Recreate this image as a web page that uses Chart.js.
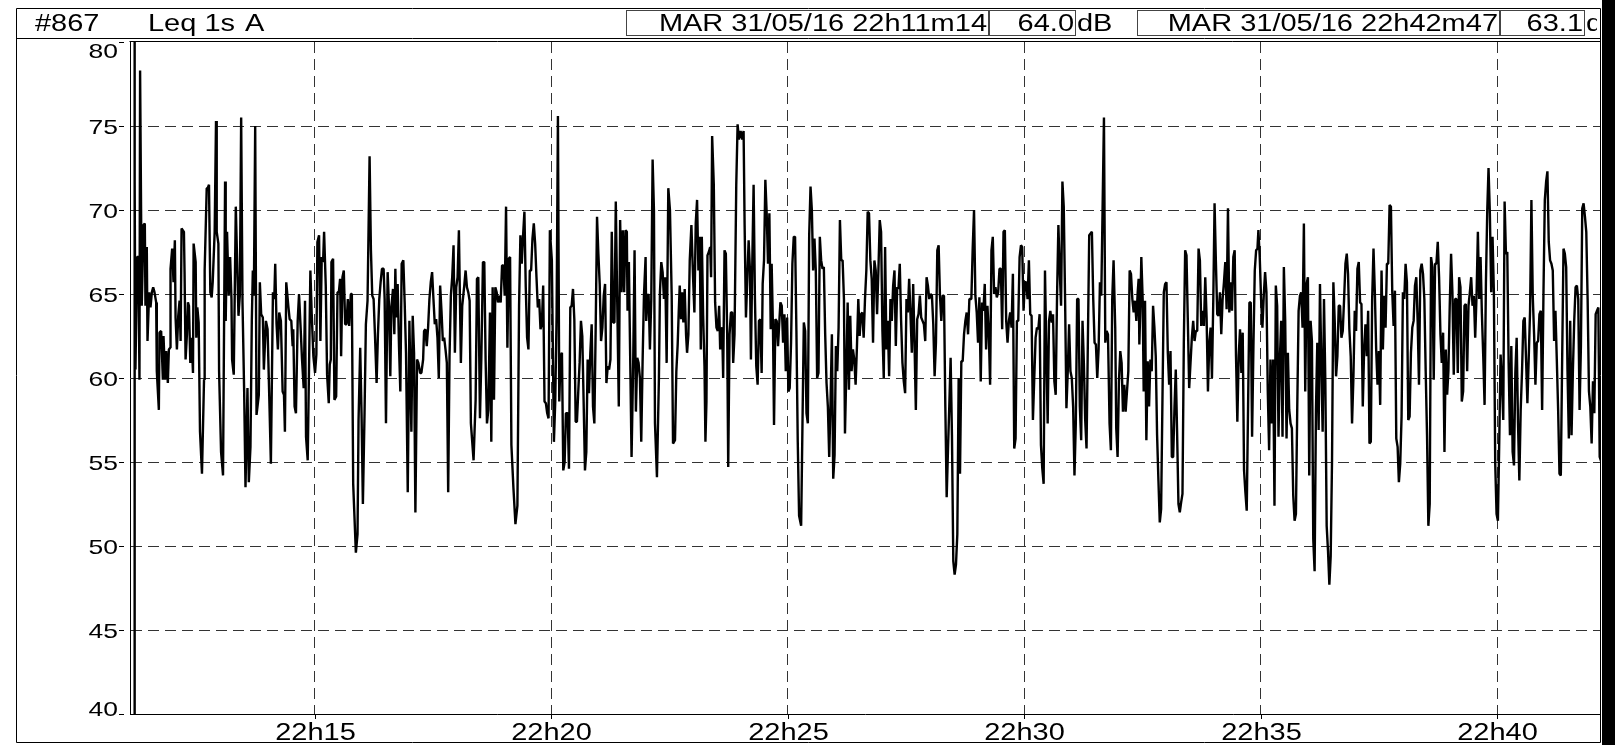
<!DOCTYPE html>
<html>
<head>
<meta charset="utf-8">
<title>#867 Leq 1s A</title>
<script src="https://cdn.jsdelivr.net/npm/chart.js@4/dist/chart.umd.min.js"></script>
<style>
  html, body { margin: 0; padding: 0; background: #fff; overflow: hidden; }
  canvas { display: block; }
</style>
</head>
<body>
<canvas id="leq" width="1615" height="745"></canvas>
<script>
// Leq 1 s, A-weighted, station #867 — 31/05/16 from 22h11m14.
// Time stamps are seconds after 22h00m00, levels are dB(A).

// 22h11 – 22h21
const timesA = [
  670.8,671.2,672.0,672.6,674.7,676.4,677.7,678.5,680.6,682.8,
  684.5,685.3,687.0,687.9,690.0,691.7,693.4,695.1,696.8,698.9,
  699.7,702.3,703.1,705.2,707.4,708.2,710.3,711.6,713.7,715.0,
  716.7,717.1,719.2,720.9,722.6,723.5,725.2,726.9,728.6,729.9,
  731.1,734.1,734.9,736.2,737.9,739.2,740.5,742.2,743.9,745.6,
  746.4,749.0,749.8,751.1,752.8,754.5,757.0,759.6,760.4,763.0,
  764.2,765.9,767.6,769.3,770.6,773.1,774.8,775.7,777.8,778.7,
  781.2,783.7,786.3,787.1,788.8,790.9,792.7,794.4,795.2,797.3,
  799.9,803.3,805.0,806.7,808.4,810.5,812.2,814.7,816.4,818.5,
  820.2,821.5,822.8,824.5,826.2,829.1,830.4,832.1,834.2,835.5,
  838.1,840.2,842.7,844.4,847.0,848.7,849.9,851.6,853.3,855.0,
  857.1,859.3,861.0,862.2,863.9,866.5,868.2,870.3,872.0,872.8,
  874.5,876.2,878.4,880.1,882.2,883.9,886.0,887.7,889.0,891.1,
  892.8,894.5,896.2,898.3,900.4,902.1,903.4,905.5,907.2,908.9,
  910.6,911.9,914.0,915.7,917.8,919.1,920.4,921.2,923.3,925.0,
  927.2,928.9,930.6,932.2,933.5,935.2,936.9,938.6,940.3,942.0,
  943.7,945.8,947.1,948.8,952.2,954.3,955.6,957.7,959.4,961.1,
  963.2,964.9,967.0,969.6,971.3,973.0,974.7,976.4,978.5,980.2,
  981.9,983.6,985.3,987.4,988.7,990.4,992.5,994.2,995.9,997.2,
  999.3,1001.0,1002.3,1003.5,1005.2,1006.9,1008.6,1010.3,1012.4,1014.1,
  1015.8,1018.0,1020.1,1022.6,1024.3,1026.0,1027.7,1029.8,1031.5,1033.7,
  1035.3,1037.5,1038.7,1040.4,1042.1,1043.8,1045.5,1047.2,1048.9,1050.6,
  1052.3,1054.0,1055.7,1057.4,1059.1,1060.8,1062.5,1064.2,1065.9,1067.6,
  1069.3,1071.0,1072.7,1074.4,1076.1,1077.8,1079.5,1081.2,1082.9,1085.4,
  1087.1,1089.7,1091.4,1093.1,1094.8,1096.5,1098.1,1101.5,1104.1,1105.8,
  1107.5,1109.6,1111.3,1113.4,1115.1,1116.8,1118.5,1120.2,1122.3,1124.0,
  1125.7,1127.4,1129.1,1130.8,1132.5,1134.2,1135.9,1137.6,1139.3,1141.0,
  1142.7,1144.4,1146.1,1147.8,1149.5,1152.0,1154.6,1157.1,1159.2,1160.9,
  1162.6,1164.3,1166.0,1167.7,1169.4,1171.1,1172.8,1174.5,1176.2,1177.9,
  1179.6,1181.3,1183.0,1184.7,1186.4,1188.1,1189.8,1191.5,1193.2,1194.9,
  1196.6,1198.3,1200.8,1203.4,1205.1,1206.8,1208.5,1210.2,1211.9,1213.6,
  1215.3,1217.0,1218.6,1220.8,1222.5,1224.2,1225.9,1227.6,1229.3,1231.0,
  1232.6,1234.3,1236.0,1237.7,1239.4,1241.1,1242.8,1244.5,1246.2,1247.9,
  1249.6,1251.3,1253.0,1254.7,1256.4,1258.1,1259.8,1261.5,1263.2,1264.9,
  1266.6,1268.3,1270.0,1271.7,1273.4,1275.1,1276.8,1278.5,1280.2,1281.9,
  1283.6,1285.7
];
const levelsA = [
  30,84,71.8,60.5,67.2,67.2,59.9,78.3,64.3,69.1,
  69.2,64.3,67.8,62.2,65.1,64.2,65.1,65.4,65.1,64.5,
  60.4,58.1,62.7,62.8,59.9,62.5,59.9,61.6,59.7,61.7,
  61.8,66.5,67.7,65.7,68.2,63.6,61.7,63.7,64.6,62.2,
  68.9,68.7,66.3,61.1,62.6,64.5,64.3,60.9,62.4,60.3,
  68.0,66.9,62.4,64.2,63.3,56.8,54.3,59.9,66.4,71.3,
  71.3,71.5,65.1,64.8,65.7,68.7,75.3,68.7,68.0,60.4,
  55.6,54.2,71.7,63.4,68.7,64.9,67.2,64.7,61.1,60.2,
  70.2,63.7,64.9,75.5,64.5,59.2,53.5,59.4,53.8,55.9,
  63.4,66.4,64.9,75.0,57.8,59.0,65.7,63.8,63.6,60.5,
  63.4,62.9,58.2,54.9,65.1,64.7,66.8,63.2,61.7,63.9,
  63.4,59.2,59.0,56.8,65.7,64.3,63.5,63.4,61.9,62.9,
  58.3,57.9,63.4,65.0,62.9,61.1,59.4,64.6,56.5,55.1,
  60.7,66.4,63.8,61.3,60.3,61.4,68.1,68.5,62.2,67.2,
  66.9,68.7,65.5,60.2,58.5,60.8,61.1,66.9,67.1,58.7,
  58.9,65.1,65.1,65.9,61.3,66.0,66.4,63.2,63.2,64.7,
  63.1,65.0,65.0,53.7,49.6,50.7,57.5,61.8,57.9,52.5,
  57.9,63.2,64.6,73.2,67.6,64.9,64.7,62.6,59.7,62.6,
  64.7,65.7,66.5,66.5,64.7,57.3,66.3,64.3,60.1,64.2,
  65.3,62.6,66.5,63.6,65.6,61.9,59.2,66.8,67.0,64.5,
  61.5,53.2,63.4,56.8,63.7,61.5,52.0,61.1,60.9,60.3,
  60.3,61.1,62.8,62.9,61.9,63.0,64.7,65.7,66.3,64.7,
  63.2,63.5,62.4,60.0,65.5,64.0,62.2,62.4,61.7,60.9,
  53.2,61.3,64.9,66.0,67.9,61.5,65.4,66.0,68.8,60.9,
  64.3,65.5,66.4,65.4,65.1,64.6,57.3,55.1,58.7,65.9,
  66.0,57.6,61.1,66.9,66.9,61.0,57.3,58.1,63.9,56.2,
  65.4,58.7,65.4,65.1,64.5,64.9,64.5,66.7,66.7,64.9,
  70.2,61.8,67.1,67.2,56.0,53.5,51.3,52.4,64.3,68.5,
  66.8,68.5,69.9,65.4,62.4,61.7,66.4,66.4,68.3,69.2,
  68.0,66.0,64.2,64.7,62.9,63.2,65.5,58.6,58.5,57.9,
  57.6,68.8,67.0,56.2,58.6,63.7,75.6,58.6,61.3,61.5,
  54.5,55.0,57.9,57.9,54.6,64.2,64.3,65.3,63.5,57.4,
  57.4,59.2,60.9,63.4,62.5,58.6,54.5,55.6,61.1,59.1,
  61.5,63.2,58.3,57.3,63.0,69.6,67.4,65.6,62.2,63.0,
  64.9,65.6,59.7,60.7,60.5,61.1,68.7,63.3,63.3,70.5,
  64.9,58.3
];

// 22h21 – 22h32
const timesB = [
  1287.4,1289.1,1290.8,1292.5,1294.2,1295.9,1296.8,1298.5,1300.2,1301.9,
  1304.0,1305.7,1307.4,1309.1,1310.8,1312.5,1314.2,1315.9,1317.6,1319.7,
  1320.5,1322.2,1323.5,1325.2,1326.9,1328.6,1330.3,1331.6,1334.1,1336.6,
  1337.9,1339.6,1341.3,1343.0,1344.7,1346.4,1348.5,1350.6,1352.8,1354.5,
  1357.0,1358.7,1360.4,1361.7,1363.0,1364.7,1366.0,1367.6,1369.3,1371.0,
  1372.3,1374.0,1375.7,1377.8,1379.9,1381.6,1383.3,1385.0,1386.7,1388.4,
  1389.7,1391.0,1392.7,1394.4,1395.6,1396.9,1398.2,1399.9,1401.6,1402.8,
  1404.1,1406.2,1407.9,1409.6,1411.3,1413.0,1414.3,1415.6,1416.8,1418.1,
  1419.8,1421.5,1423.2,1424.5,1426.2,1427.9,1429.6,1430.8,1432.5,1434.7,
  1436.4,1438.1,1440.2,1442.3,1444.0,1445.3,1447.0,1448.7,1450.4,1452.1,
  1453.3,1455.0,1456.7,1458.4,1460.1,1461.8,1463.5,1465.2,1466.9,1468.2,
  1469.9,1471.6,1473.3,1475.0,1476.7,1478.4,1479.6,1481.3,1482.6,1484.3,
  1486.0,1487.7,1489.4,1490.7,1492.4,1494.1,1495.8,1497.5,1499.2,1500.8,
  1502.5,1504.2,1505.9,1507.6,1509.3,1511.0,1512.7,1514.4,1517.0,1518.7,
  1520.4,1522.1,1523.8,1525.5,1527.2,1528.9,1530.6,1532.2,1533.9,1535.6,
  1537.3,1539.0,1540.7,1542.4,1544.1,1545.8,1547.5,1549.2,1550.9,1552.6,
  1554.3,1556.0,1557.7,1559.4,1561.1,1562.8,1564.5,1566.2,1567.9,1569.6,
  1571.3,1572.6,1574.3,1576.0,1577.6,1579.3,1581.0,1582.7,1584.4,1586.1,
  1587.8,1589.5,1591.2,1592.9,1594.6,1596.3,1598.0,1599.7,1601.4,1603.1,
  1604.8,1606.5,1608.2,1609.9,1611.6,1613.3,1615.0,1616.7,1618.4,1620.1,
  1621.8,1623.5,1625.2,1626.9,1628.6,1630.3,1632.0,1633.7,1635.4,1637.1,
  1638.8,1640.4,1642.1,1643.8,1645.5,1647.2,1648.9,1650.6,1652.3,1654.0,
  1655.7,1657.4,1659.1,1660.8,1662.5,1664.2,1665.9,1667.6,1669.3,1671.0,
  1672.7,1674.4,1676.1,1677.8,1679.5,1681.2,1682.9,1684.6,1686.3,1688.0,
  1689.7,1691.4,1693.1,1694.8,1696.5,1698.2,1699.9,1701.6,1703.3,1704.9,
  1706.6,1708.3,1710.0,1711.7,1713.4,1715.1,1716.8,1718.5,1720.2,1721.9,
  1723.6,1725.3,1727.0,1728.7,1730.4,1732.9,1734.6,1736.3,1738.0,1739.7,
  1741.4,1743.1,1744.8,1746.5,1748.2,1749.9,1751.6,1753.3,1755.0,1756.7,
  1758.4,1760.1,1761.8,1763.5,1765.2,1766.9,1768.6,1770.3,1772.0,1773.7,
  1775.4,1777.1,1778.8,1780.5,1782.2,1783.9,1785.6,1787.3,1789.0,1790.7,
  1792.4,1794.1,1795.8,1797.4,1799.1,1800.8,1802.5,1804.2,1805.9,1807.6,
  1809.3,1811.0,1812.7,1814.4,1816.1,1817.8,1819.5,1821.2,1822.9,1824.6,
  1826.3,1828.0,1829.7,1831.4,1833.1,1834.8,1836.5,1838.2,1839.9,1841.6,
  1843.3,1845.0,1846.7,1848.4,1850.1,1851.8,1853.5,1855.2,1856.9,1858.6,
  1860.3,1862.0,1863.7,1865.4,1867.1,1868.8,1870.5,1872.2,1873.9,1875.6,
  1877.3,1879.0,1880.7,1882.4,1884.1,1885.8,1887.5,1889.2,1890.9,1892.6,
  1894.3,1896.0,1897.7,1899.4,1901.1,1902.8,1904.5,1906.2
];
const levelsB = [
  69.4,65.1,68.8,65.1,68.8,68.7,64.0,66.9,61.1,55.3,
  61.0,67.6,58.0,61.2,60.9,60.0,56.2,61.0,64.9,67.2,
  63.4,64.9,65.0,61.7,64.7,73.0,70.0,57.3,54.1,60.0,
  65.1,66.9,66.3,64.7,66.0,60.9,71.3,70.0,64.9,56.1,
  56.3,60.4,62.0,63.9,65.5,63.5,65.1,63.3,65.3,62.6,
  61.5,62.6,67.0,69.1,66.0,63.9,69.2,70.6,66.4,68.4,
  61.7,68.4,63.7,60.7,56.2,58.6,67.3,67.5,67.8,66.0,
  74.4,71.5,64.5,63.0,62.8,64.3,61.7,62.9,63.0,60.0,
  67.6,67.4,62.6,54.7,62.6,63.9,63.9,60.9,62.6,71.5,
  75.1,74.2,74.7,74.2,74.7,69.1,63.6,65.9,68.2,66.4,
  61.1,66.8,71.5,64.7,60.7,59.6,63.4,63.5,60.3,65.6,
  67.0,71.8,69.8,66.8,69.8,62.9,66.8,62.9,57.2,63.5,
  63.4,61.9,63.4,64.5,64.3,62.1,63.8,60.4,63.6,59.2,
  59.4,62.1,66.8,68.4,68.4,62.8,56.2,51.8,51.2,57.3,
  63.3,62.8,57.9,57.3,68.5,71.4,70.0,66.4,68.3,66.4,
  60.0,60.3,68.4,67.0,66.5,66.6,62.6,59.7,58.3,55.3,
  58.6,62.6,54.0,55.4,61.9,60.4,63.0,69.4,67.0,67.0,
  64.7,56.7,60.4,64.5,59.3,63.7,60.4,61.7,61.1,59.6,
  61.9,64.7,62.5,63.8,63.9,62.4,64.7,66.4,69.9,69.8,
  67.0,65.9,62.1,67.0,66.4,63.8,66.4,69.4,68.7,62.8,
  60.0,67.8,61.7,63.4,60.1,64.7,63.4,65.5,66.4,61.9,
  65.4,65.3,66.8,63.4,60.9,59.8,59.1,64.7,63.9,65.9,
  63.8,61.5,65.6,62.1,58.1,63.5,63.8,64.9,63.6,63.4,
  63.2,62.2,66.0,65.5,64.7,65.0,64.9,63.2,60.1,62.1,
  67.6,67.9,64.9,63.4,64.9,64.9,58.3,52.9,55.8,58.3,
  61.2,56.6,49.1,48.3,48.9,50.7,60.0,54.3,61.0,61.0,
  62.6,63.4,63.9,62.6,64.7,64.7,67.7,70.0,64.9,63.9,
  62.1,64.8,59.8,64.5,64.0,65.6,61.7,64.3,62.7,59.6,
  67.6,68.4,65.0,65.4,64.8,65.1,66.5,66.5,62.9,68.7,
  68.8,63.4,62.1,63.4,63.9,63.0,66.2,55.8,56.4,63.4,
  63.4,67.2,67.9,67.8,64.0,65.7,65.7,64.7,67.0,63.8,
  63.7,57.5,60.0,62.4,63.0,62.9,63.8,56.0,54.6,53.7,
  66.4,61.7,57.3,63.4,64.0,63.3,63.8,59.8,59.0,64.9,
  69.1,66.4,64.3,71.7,70.2,64.7,58.2,60.4,63.2,60.4,
  60.0,58.3,54.2,57.3,64.7,64.7,58.3,56.3,63.4,60.9,
  57.5,55.8,62.2,68.5,68.6,68.7,64.7,62.1,62.0,60.0,
  61.7,65.7,64.9,70.2,75.5,62.1,62.8,62.6
];

// 22h32 – 22h42
const timesC = [
  1908.2,1909.9,1911.6,1913.3,1915.4,1916.7,1918.4,1920.1,1921.8,1923.5,
  1925.2,1926.9,1928.6,1930.3,1932.0,1933.7,1935.4,1937.1,1938.8,1940.5,
  1942.2,1943.9,1945.1,1946.0,1947.3,1948.5,1950.2,1951.5,1953.2,1954.9,
  1956.6,1958.3,1960.0,1961.7,1963.4,1965.1,1966.8,1968.5,1970.2,1971.9,
  1973.6,1975.3,1977.0,1978.7,1980.4,1982.1,1983.8,1985.5,1987.2,1988.9,
  1990.6,1992.2,1993.9,1995.6,1997.3,1999.0,2000.7,2002.4,2004.1,2005.8,
  2007.5,2009.2,2010.9,2012.6,2014.3,2016.0,2017.7,2019.4,2021.1,2022.8,
  2024.5,2026.2,2027.9,2029.6,2031.3,2033.0,2034.7,2036.4,2038.1,2039.8,
  2041.4,2043.1,2044.8,2046.5,2048.2,2049.9,2051.6,2053.3,2055.0,2056.7,
  2058.4,2060.1,2061.8,2063.5,2065.2,2066.9,2068.6,2070.3,2072.0,2073.7,
  2075.4,2077.1,2078.8,2080.5,2082.2,2083.9,2085.6,2087.3,2089.0,2090.7,
  2092.4,2094.1,2095.8,2097.0,2098.7,2100.4,2102.1,2103.8,2105.5,2107.2,
  2108.9,2110.6,2112.3,2114.0,2115.7,2117.4,2119.1,2120.8,2122.5,2124.2,
  2125.9,2127.6,2129.3,2131.0,2132.7,2134.4,2136.1,2137.8,2139.5,2141.2,
  2142.9,2144.6,2146.3,2148.0,2149.7,2151.3,2153.0,2154.7,2156.4,2158.1,
  2159.8,2161.5,2163.2,2164.9,2166.6,2168.3,2170.0,2171.7,2173.4,2175.1,
  2176.8,2178.5,2180.2,2181.9,2183.6,2185.3,2187.0,2188.7,2190.4,2192.1,
  2193.8,2195.5,2197.2,2198.9,2200.6,2202.3,2204.0,2205.7,2207.4,2209.1,
  2210.7,2212.4,2214.1,2215.8,2217.5,2219.2,2220.9,2222.6,2224.3,2226.0,
  2227.7,2229.4,2231.1,2232.8,2234.5,2236.2,2237.9,2239.6,2241.3,2243.0,
  2244.7,2246.4,2248.1,2249.8,2251.5,2253.2,2254.9,2256.6,2258.3,2260.0,
  2261.7,2263.4,2265.1,2266.8,2268.5,2270.2,2271.9,2273.6,2275.2,2276.9,
  2278.6,2280.3,2282.0,2283.7,2285.4,2287.1,2288.8,2290.5,2292.2,2293.9,
  2295.6,2297.3,2299.0,2300.7,2302.4,2304.1,2305.8,2307.5,2309.2,2310.9,
  2312.6,2314.3,2316.0,2317.7,2319.4,2321.1,2322.8,2324.5,2326.2,2327.9,
  2329.6,2331.3,2333.0,2334.7,2336.4,2338.0,2339.7,2341.4,2343.1,2344.8,
  2346.5,2348.2,2349.9,2351.6,2353.3,2355.0,2356.7,2358.4,2360.1,2361.8,
  2363.5,2365.2,2366.9,2368.6,2370.3,2372.0,2373.7,2375.4,2377.1,2378.8,
  2380.5,2382.2,2383.9,2385.6,2387.3,2388.9,2390.6,2392.3,2394.0,2395.7,
  2397.4,2399.1,2400.8,2402.5,2404.2,2405.9,2407.6,2409.3,2411.0,2412.7,
  2414.4,2416.1,2417.8,2419.5,2421.2,2422.9,2424.6,2426.3,2428.0,2429.7,
  2431.4,2433.1,2434.8,2436.5,2438.2,2439.9,2441.6,2443.3,2445.0,2446.7,
  2448.4,2450.1,2451.8,2453.5,2455.2,2456.9,2458.6,2460.3,2462.0,2463.6,
  2465.3,2467.0,2468.7,2470.4,2472.1,2473.8,2475.5,2477.2,2478.9,2480.6,
  2482.3,2484.0,2485.7,2487.4,2489.1,2490.8,2492.5,2494.2,2495.9,2497.6,
  2499.3,2501.0,2502.7,2504.4,2506.1,2507.8,2509.5,2511.2,2512.9,2514.6,
  2516.3,2518.0,2519.7,2521.4,2523.1,2524.8,2526.5,2528.2,2529.9,2532.0
];
const levelsC = [
  57.3,55.7,64.7,67.0,63.0,57.0,55.3,59.8,61.6,60.9,
  58.0,59.6,58.0,59.2,60.4,66.4,66.2,64.7,63.9,64.6,
  63.4,65.1,65.9,62.0,64.3,67.2,64.7,59.2,64.6,56.3,
  61.0,58.3,61.1,60.4,64.3,63.0,61.3,56.6,53.9,51.4,
  52.2,58.7,65.1,65.6,65.7,61.5,59.6,61.6,55.3,55.3,
  58.3,60.5,56.7,52.5,52.0,52.6,53.1,62.1,67.6,67.3,
  63.4,59.4,60.9,62.4,63.4,62.2,62.8,62.8,67.7,67.0,
  63.1,64.0,63.1,66.0,63.6,59.2,62.1,63.0,60.0,64.7,
  70.4,66.9,63.8,63.7,65.1,62.6,64.7,65.7,66.9,64.1,
  70.1,63.9,65.7,64.0,67.2,67.6,61.3,57.4,61.3,62.9,
  60.3,62.7,54.5,53.2,52.1,58.3,64.5,64.5,56.5,61.9,
  66.4,67.6,67.7,68.8,67.2,64.7,63.0,64.9,66.3,65.1,
  59.2,55.7,61.1,57.3,61.1,52.4,65.5,64.3,56.5,61.1,
  63.4,56.5,66.6,63.4,56.4,61.5,58.1,57.3,57.0,53.0,
  51.5,51.9,58.3,64.0,64.9,65.1,63.0,69.2,59.2,65.6,
  66.0,54.2,63.4,62.2,50.4,48.5,58.1,62.1,56.9,65.6,
  60.9,56.8,64.7,59.8,51.2,49.7,47.7,49.4,55.1,65.7,
  63.4,60.1,61.3,64.3,64.3,62.4,62.8,64.7,66.8,67.4,
  66.2,62.9,61.3,57.3,60.0,64.0,62.8,66.5,66.9,64.5,
  64.4,58.3,61.7,63.2,61.3,64.0,56.1,56.2,64.7,67.7,
  65.1,61.7,59.6,61.6,58.4,66.4,61.7,64.9,63.0,66.8,
  66.8,70.3,70.2,65.1,63.1,65.2,56.4,55.9,53.8,54.9,
  57.7,65.1,64.7,66.8,65.7,57.5,57.7,61.5,63.0,63.4,
  65.5,66.0,63.4,59.6,66.4,66.8,66.2,64.7,60.4,56.6,
  51.2,52.5,67.2,66.6,59.9,66.8,66.8,68.1,66.0,62.6,
  60.9,62.7,55.6,61.7,59.0,60.4,64.3,67.4,65.1,60.2,
  64.7,64.7,60.3,66.0,65.4,58.6,59.2,64.3,64.4,60.4,
  64.3,65.1,66.0,64.3,64.9,62.4,64.9,68.7,64.7,67.2,
  63.8,61.3,58.4,65.7,70.0,72.5,69.8,65.1,68.4,65.1,
  54.9,51.9,51.5,56.2,61.4,59.8,57.5,70.5,67.4,67.5,
  60.9,56.6,61.9,55.6,54.8,60.3,62.4,57.3,53.9,58.1,
  60.4,63.4,63.6,61.1,58.5,61.2,64.0,70.6,64.9,62.6,
  59.6,62.1,62.2,63.8,64.0,58.1,65.1,70.6,71.7,72.3,
  68.1,67.0,66.8,66.4,62.2,64.0,61.1,58.1,54.3,54.2,
  61.1,67.7,67.4,66.6,60.4,56.4,63.4,56.6,60.4,63.4,
  65.4,65.5,64.7,58.1,61.9,70.1,70.4,69.6,68.7,64.7,
  59.2,58.3,56.1,59.8,57.9,63.8,64.0,64.2,55.3,55.0
];

// Axes
const yTicks = [40, 45, 50, 55, 60, 65, 70, 75, 80];
const xTickSeconds = [900, 1200, 1500, 1800, 2100, 2400];
const xTickLabels = ['22h15', '22h20', '22h25', '22h30', '22h35', '22h40'];
const timeWindow = [665.7, 2530.3];   // seconds after 22h00 visible in the frame

// Header fields
const stationId = '#867';
const indexName = 'Leq 1s';
const weighting = 'A';
const startStamp = 'MAR 31/05/16 22h11m14';
const startLevel = '64.0';
const endStamp = 'MAR 31/05/16 22h42m47';
const endLevel = '63.1';
const levelUnit = 'dB';

function toPoints(times, levels) {
  const n = Math.min(times.length, levels.length);
  const out = [];
  for (let i = 0; i < n; i++) out.push({ x: times[i], y: levels[i] });
  return out;
}
const points = [
  ...toPoints(timesA, levelsA),
  ...toPoints(timesB, levelsB),
  ...toPoints(timesC, levelsC)
];

const FONT = '"Liberation Sans", Arial, Helvetica, sans-serif';
const STRETCH = 1.26;   // the recorder's typeface is wide

function drawLabel(ctx, str, x, y, size, align) {
  ctx.save();
  ctx.translate(x, y);
  ctx.scale(STRETCH, 1);
  ctx.font = size + 'px ' + FONT;
  ctx.textAlign = align;
  ctx.textBaseline = 'alphabetic';
  ctx.fillStyle = '#000';
  ctx.fillText(str, 0, 0);
  ctx.restore();
}
function seg(ctx, x1, y1, x2, y2, color, w) {
  ctx.beginPath();
  ctx.strokeStyle = color;
  ctx.lineWidth = w || 1;
  ctx.moveTo(x1, y1);
  ctx.lineTo(x2, y2);
  ctx.stroke();
}
function box(ctx, x1, y1, x2, y2, color) {
  ctx.strokeStyle = color;
  ctx.lineWidth = 1;
  ctx.strokeRect(x1, y1, x2 - x1, y2 - y1);
}

const recorderFrame = {
  id: 'recorderFrame',
  beforeDraw(chart) {
    const ctx = chart.ctx;
    ctx.save();
    ctx.fillStyle = '#fff';
    ctx.fillRect(0, 0, chart.width, chart.height);
    ctx.restore();
  },
  afterDraw(chart) {
    const { ctx, chartArea: a, scales: { x, y } } = chart;
    const right = a.right + 0.5;
    ctx.save();

    // outer frame and header band
    seg(ctx, 16.5, 8.5, right, 8.5, '#000');
    seg(ctx, 16.5, 38.5, right, 38.5, '#000');
    seg(ctx, a.left - 0.5, a.top - 0.5, right, a.top - 0.5, '#000');
    seg(ctx, 16.5, 8.5, 16.5, 742.5, '#000');
    seg(ctx, 16.5, 742.5, right, 742.5, '#000');
    seg(ctx, right, 8.5, right, 742.5, '#000');

    // header boxes
    box(ctx, 626.5, 10.5, 988.5, 35.5, '#444');
    box(ctx, 989.5, 10.5, 1075.5, 35.5, '#444');
    box(ctx, 1137.5, 10.5, 1499.5, 35.5, '#444');
    box(ctx, 1500.5, 10.5, 1584.5, 35.5, '#444');

    // header text
    drawLabel(ctx, stationId, 35, 31, 23, 'left');
    drawLabel(ctx, indexName, 148, 31, 23, 'left');
    drawLabel(ctx, weighting, 245, 31, 23, 'left');
    drawLabel(ctx, startStamp, 987, 31, 23, 'right');
    drawLabel(ctx, startLevel, 1074, 31, 23, 'right');
    drawLabel(ctx, levelUnit, 1077, 31, 23, 'left');
    drawLabel(ctx, endStamp, 1498, 31, 23, 'right');
    drawLabel(ctx, endLevel, 1583, 31, 23, 'right');
    // the last unit field is cut short by the display edge
    ctx.save();
    ctx.beginPath();
    ctx.rect(0, 0, 1597, chart.height);
    ctx.clip();
    drawLabel(ctx, levelUnit, 1586, 31, 23, 'left');
    ctx.restore();

    // level axis labels and ticks
    yTicks.forEach(v => {
      const py = Math.round(y.getPixelForValue(v)) + 0.5;
      seg(ctx, 119, py, 124, py, '#000');
      const cy = Math.min(Math.max(py, a.top + 8.5), a.bottom - 6);
      drawLabel(ctx, String(v), 118, cy + 7.5, 21, 'right');
    });

    // time axis labels and ticks
    xTickSeconds.forEach((t, i) => {
      const px = Math.round(x.getPixelForValue(t)) + 0.5;
      seg(ctx, px, a.bottom, px, a.bottom + 5, '#000');
      drawLabel(ctx, xTickLabels[i], px, 739.5, 23, 'center');
    });

    // dark band along the right edge
    ctx.fillStyle = '#000';
    ctx.fillRect(1602, 0, chart.width - 1602, chart.height);
    ctx.restore();
  }
};

const gridColor = c => (c.tick && (c.tick.value === 40 || c.tick.value === 80)) ? 'rgba(0,0,0,0)' : '#333';

new Chart(document.getElementById('leq'), {
  type: 'line',
  data: {
    datasets: [{
      data: points,
      borderColor: '#000',
      borderWidth: 2.4,
      pointRadius: 0,
      tension: 0,
      borderJoinStyle: 'bevel',
      clip: 0
    }]
  },
  options: {
    responsive: false,
    animation: false,
    events: [],
    layout: { padding: { left: 130, right: 15, top: 42, bottom: 31 } },
    plugins: { legend: { display: false }, tooltip: { enabled: false } },
    scales: {
      x: {
        type: 'linear',
        min: timeWindow[0],
        max: timeWindow[1],
        afterFit(s) { s.height = 0; },
        afterBuildTicks(s) { s.ticks = xTickSeconds.map(v => ({ value: v })); },
        ticks: { display: false },
        grid: { color: '#333', lineWidth: 1, drawTicks: false },
        border: { display: true, color: '#000', width: 1, dash: [11, 6] }
      },
      y: {
        min: 40,
        max: 80,
        afterFit(s) { s.width = 0; },
        afterBuildTicks(s) { s.ticks = yTicks.map(v => ({ value: v })); },
        ticks: { display: false },
        grid: { color: gridColor, lineWidth: 1, drawTicks: false },
        border: { display: true, color: '#000', width: 1, dash: [11, 6] }
      }
    }
  },
  plugins: [recorderFrame]
});
</script>
</body>
</html>
